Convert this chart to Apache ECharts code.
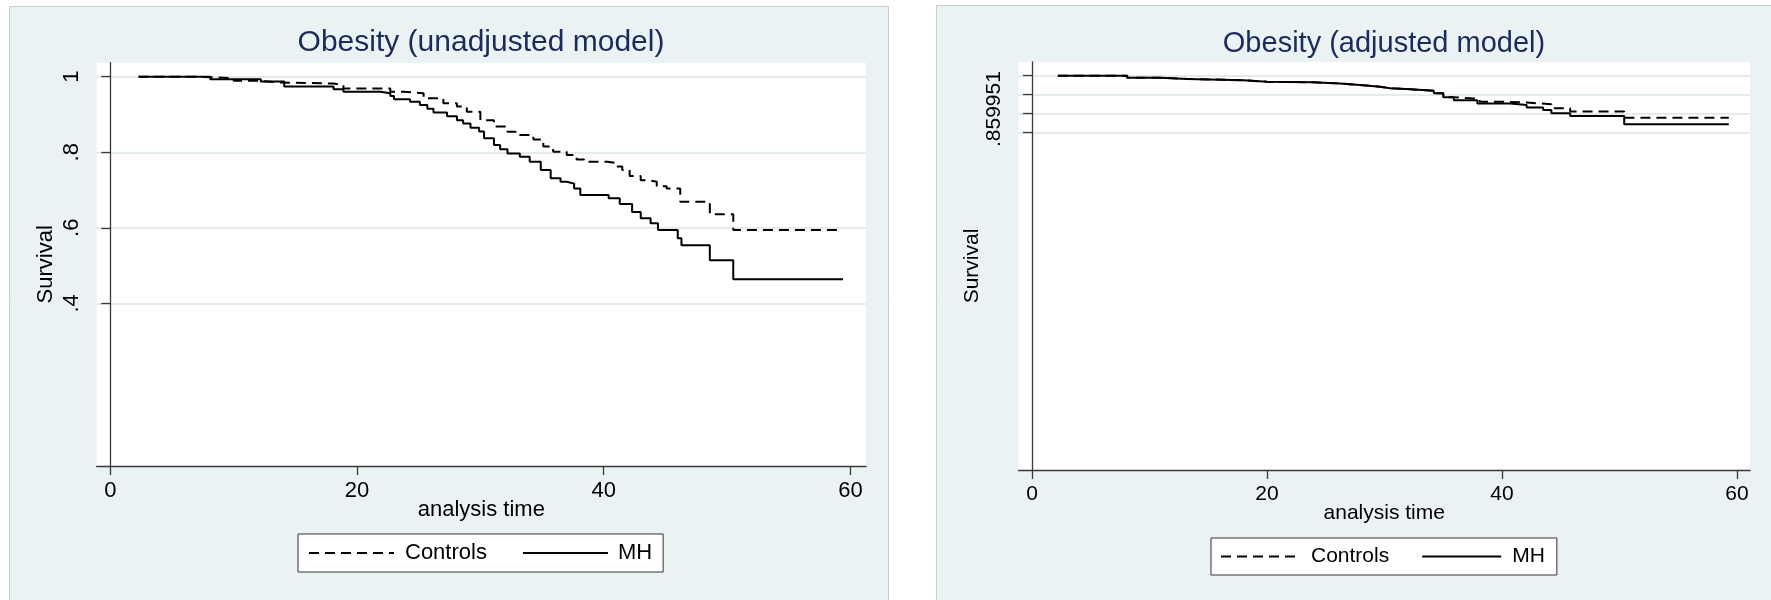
<!DOCTYPE html>
<html><head><meta charset="utf-8">
<script src="https://cdn.jsdelivr.net/npm/echarts@6.0.0/dist/echarts.min.js"></script>
<style>html,body{margin:0;padding:0;background:#fff}#c{width:1771px;height:600px}</style>
</head><body><div id="c"></div>
<script>
// ---- text ----
const leftTitle = 'Obesity (unadjusted model)';
const rightTitle = 'Obesity (adjusted model)';
const yName = 'Survival';
const xName = 'analysis time';
const seriesNames = ['Controls', 'MH'];

// ---- ticks ----
const xTicks = [0, 20, 40, 60];
const leftYTicks = [0.4, 0.6, 0.8, 1];
const leftYTickLabels = ['.4', '.6', '.8', '1'];
const rightYTicks = [0.859951, 0.906634, 0.953317, 1];
const rightYLabelValues = [0.918];
const rightYLabelTexts = ['.859951'];

// ---- unadjusted model (left) ----
const leftTimeMH = [2.3, 8.1, 12.2, 14.1, 18.1, 18.9, 21.9, 22.7, 23.0, 24.3, 25.1, 25.7, 26.2, 27.3, 28.1, 28.6, 29.2, 29.9, 30.3, 31.1, 31.6, 32.2, 33.2, 34.0, 34.9, 35.7, 36.5, 37.0, 37.6, 38.1, 40.4, 41.3, 42.3, 43.0, 43.8, 44.4, 46.0, 46.3, 48.6, 50.5, 59.4];
const leftSurvMH = [1.0, 0.993, 0.987, 0.974, 0.967, 0.960, 0.956, 0.949, 0.940, 0.934, 0.925, 0.915, 0.905, 0.895, 0.885, 0.876, 0.865, 0.855, 0.837, 0.819, 0.808, 0.797, 0.788, 0.775, 0.753, 0.731, 0.722, 0.717, 0.704, 0.687, 0.678, 0.663, 0.642, 0.625, 0.612, 0.594, 0.572, 0.554, 0.514, 0.464, 0.464];
const leftTimeCtrl = [2.3, 6.8, 8.7, 10.0, 12.2, 13.5, 18.1, 18.9, 22.7, 23.8, 25.4, 27.0, 28.1, 28.9, 30.0, 31.1, 32.2, 33.2, 34.3, 35.1, 35.9, 37.0, 37.8, 38.4, 40.3, 41.1, 41.5, 42.1, 43.0, 43.6, 44.3, 45.1, 46.2, 48.6, 50.5, 59.4];
const leftSurvCtrl = [1.0, 0.998, 0.996, 0.989, 0.985, 0.982, 0.978, 0.969, 0.960, 0.956, 0.943, 0.930, 0.921, 0.907, 0.885, 0.868, 0.854, 0.846, 0.834, 0.815, 0.801, 0.793, 0.781, 0.775, 0.771, 0.762, 0.753, 0.737, 0.726, 0.722, 0.710, 0.704, 0.669, 0.636, 0.594, 0.594];

// ---- adjusted model (right) ----
const rightTimeMH = [2.2, 8.1, 10.9, 13.2, 18.0, 20.0, 23.9, 26.2, 27.9, 29.6, 30.5, 32.2, 34.2, 35.0, 35.9, 37.9, 40.7, 42.1, 43.5, 44.2, 45.8, 50.4, 59.3];
const rightSurvMH = [1.0, 0.995, 0.992, 0.989, 0.985, 0.984, 0.981, 0.977, 0.973, 0.969, 0.967, 0.963, 0.957, 0.947, 0.940, 0.932, 0.928, 0.922, 0.916, 0.908, 0.901, 0.881, 0.881];
const rightTimeCtrl = [2.2, 8.1, 10.9, 13.2, 18.0, 20.0, 23.9, 26.2, 27.9, 29.6, 30.5, 32.2, 34.2, 35.0, 35.9, 38.1, 40.4, 42.1, 44.2, 45.8, 50.4, 59.3];
const rightSurvCtrl = [1.0, 0.995, 0.992, 0.989, 0.985, 0.984, 0.981, 0.977, 0.973, 0.969, 0.967, 0.963, 0.957, 0.947, 0.943, 0.936, 0.934, 0.930, 0.920, 0.912, 0.897, 0.897];

const zip = (a, b) => a.map((t, i) => [t, b[i]]);
const F = "'Liberation Sans', Arial, sans-serif";
const AX = '#3a3a3a';
const GRID_LINE = '#e3ebed';
const PANEL = '#eaf2f3';

function xAxis(gi, min, max, fs) {
  return {
    gridIndex: gi, type: 'value', min: min, max: max,
    axisLine: { show: true, onZero: false, lineStyle: { color: AX, width: 1.3 } },
    axisTick: { show: true, length: 9, customValues: xTicks, lineStyle: { color: AX, width: 1.3 } },
    axisLabel: { customValues: xTicks, margin: 14, fontSize: fs, color: '#000', fontFamily: F },
    splitLine: { show: false },
    name: xName, nameLocation: 'middle', nameGap: 33, nameMoveOverlap: false,
    nameTextStyle: { fontSize: fs, color: '#000', fontFamily: F }
  };
}

const option = {
  animation: false,
  backgroundColor: '#fff',
  graphic: [
    { type: 'rect', silent: true, z: -10, shape: { x: 9.5, y: 6.5, width: 879, height: 610 }, style: { fill: PANEL, stroke: '#c6cdcf', lineWidth: 1 } },
    { type: 'rect', silent: true, z: -10, shape: { x: 936.5, y: 5.5, width: 850, height: 610 }, style: { fill: PANEL, stroke: '#c6cdcf', lineWidth: 1 } }
  ],
  title: [
    { text: leftTitle, left: 481, top: 28, textAlign: 'center', padding: 0, textStyle: { fontSize: 30, fontWeight: 'normal', color: '#1c2b5a', fontFamily: F } },
    { text: rightTitle, left: 1384, top: 29, textAlign: 'center', padding: 0, textStyle: { fontSize: 29, fontWeight: 'normal', color: '#1c2b5a', fontFamily: F } }
  ],
  grid: [
    { left: 96.7, top: 62.7, width: 769.3, height: 403.3, show: true, backgroundColor: '#fff', borderWidth: 0, containLabel: false },
    { left: 1018.5, top: 62, width: 731.5, height: 408, show: true, backgroundColor: '#fff', borderWidth: 0, containLabel: false }
  ],
  xAxis: [ xAxis(0, -1.10, 61.26, 22), xAxis(1, -1.149, 61.106, 21) ],
  yAxis: [
    {
      gridIndex: 0, type: 'value', min: -0.0307, max: 1.0371,
      axisLine: { show: true, lineStyle: { color: AX, width: 1.3 } },
      axisTick: { show: true, length: 9, customValues: leftYTicks, lineStyle: { color: AX, width: 1.3 } },
      axisLabel: { customValues: leftYTicks, rotate: 90, margin: 14, fontSize: 22, color: '#000', fontFamily: F,
        formatter: v => { const i = leftYTicks.findIndex(t => Math.abs(t - v) < 1e-6); return i >= 0 ? leftYTickLabels[i] : ''; } },
      splitLine: { show: true, lineStyle: { color: GRID_LINE, width: 2 } },
      name: yName, nameLocation: 'middle', nameGap: 40, nameRotate: 90, nameMoveOverlap: false,
      nameTextStyle: { fontSize: 22, color: '#000', fontFamily: F }
    },
    {
      gridIndex: 1, type: 'value', min: 0.0312, max: 1.0337,
      axisLine: { show: true, lineStyle: { color: AX, width: 1.3 } },
      axisTick: { show: true, length: 9, customValues: rightYTicks, lineStyle: { color: AX, width: 1.3 } },
      axisLabel: { customValues: rightYLabelValues, rotate: 90, margin: 14, fontSize: 21, color: '#000', fontFamily: F,
        formatter: v => { const i = rightYLabelValues.findIndex(t => Math.abs(t - v) < 1e-6); return i >= 0 ? rightYLabelTexts[i] : ''; } },
      splitLine: { show: true, lineStyle: { color: GRID_LINE, width: 2 } },
      name: yName, nameLocation: 'middle', nameGap: 36, nameRotate: 90, nameMoveOverlap: false,
      nameTextStyle: { fontSize: 21, color: '#000', fontFamily: F }
    }
  ],
  legend: [
    { data: [{ name: seriesNames[0] }, { name: seriesNames[1], textStyle: { padding: [0, 0, 0, 5] } }],
      left: 298, top: 534, orient: 'horizontal', itemWidth: 85, itemHeight: 14, itemGap: 35,
      padding: [8, 11, 8, 10], borderColor: '#333', borderWidth: 1, backgroundColor: '#fff', selectedMode: false,
      itemStyle: { opacity: 0 },
      textStyle: { fontSize: 22, color: '#000', fontFamily: F, padding: [0, 0, 0, 6] } },
    { data: seriesNames, left: 1211, top: 538, orient: 'horizontal', itemWidth: 79, itemHeight: 14, itemGap: 32,
      padding: [8, 12, 8, 9], borderColor: '#333', borderWidth: 1, backgroundColor: '#fff', selectedMode: false,
      itemStyle: { opacity: 0 },
      textStyle: { fontSize: 21, color: '#000', fontFamily: F, padding: [0, 0, 0, 6] } }
  ],
  series: [
    { name: seriesNames[0], type: 'line', step: 'end', xAxisIndex: 0, yAxisIndex: 0, symbol: 'none', data: zip(leftTimeCtrl, leftSurvCtrl),
      lineStyle: { color: '#000', width: 2, type: [10, 6] }, itemStyle: { color: '#000' } },
    { name: seriesNames[1], type: 'line', step: 'end', xAxisIndex: 0, yAxisIndex: 0, symbol: 'none', data: zip(leftTimeMH, leftSurvMH),
      lineStyle: { color: '#000', width: 2, type: 'solid' }, itemStyle: { color: '#000' } },
    { name: seriesNames[0], type: 'line', step: 'end', xAxisIndex: 1, yAxisIndex: 1, symbol: 'none', data: zip(rightTimeCtrl, rightSurvCtrl),
      lineStyle: { color: '#000', width: 2, type: [10, 6] }, itemStyle: { color: '#000' }, z: 3 },
    { name: seriesNames[1], type: 'line', step: 'end', xAxisIndex: 1, yAxisIndex: 1, symbol: 'none', data: zip(rightTimeMH, rightSurvMH),
      lineStyle: { color: '#000', width: 2, type: 'solid' }, itemStyle: { color: '#000' }, z: 2 }
  ]
};
const chart = echarts.init(document.getElementById('c'), null, { renderer: 'canvas' });
chart.setOption(option);
</script></body></html>
